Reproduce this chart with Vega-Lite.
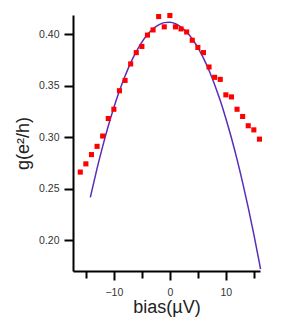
{
  "$schema": "https://vega.github.io/schema/vega-lite/v6.json",
  "autosize": "none",
  "width": 187,
  "height": 256,
  "padding": {"left": 73, "top": 15, "right": 36, "bottom": 50},
  "background": "white",
  "config": {
    "view": {"stroke": null},
    "font": "Liberation Sans",
    "axis": {
      "domainColor": "black",
      "domainWidth": 2,
      "tickColor": "black",
      "tickWidth": 2,
      "tickSize": 9,
      "grid": false,
      "labelColor": "#333",
      "labelFontSize": 10.5,
      "labelFont": "Liberation Sans",
      "titleFont": "Liberation Sans",
      "titleFontSize": 18,
      "titleFontWeight": "normal",
      "titleColor": "#222"
    }
  },
  "resolve": {"axis": {"x": "independent"}},
  "datasets": {
    "pts": [
      {"bias": -16, "g": 0.266}, {"bias": -15, "g": 0.274}, {"bias": -14, "g": 0.283},
      {"bias": -13, "g": 0.291}, {"bias": -12, "g": 0.301}, {"bias": -11, "g": 0.318},
      {"bias": -10, "g": 0.327}, {"bias": -9, "g": 0.345}, {"bias": -8, "g": 0.355},
      {"bias": -7, "g": 0.371}, {"bias": -6, "g": 0.382}, {"bias": -5, "g": 0.388},
      {"bias": -4, "g": 0.399}, {"bias": -3, "g": 0.404}, {"bias": -2, "g": 0.417},
      {"bias": -1, "g": 0.407}, {"bias": 0, "g": 0.418}, {"bias": 1, "g": 0.407},
      {"bias": 2, "g": 0.405}, {"bias": 3, "g": 0.402}, {"bias": 4, "g": 0.394},
      {"bias": 5, "g": 0.387}, {"bias": 6, "g": 0.382}, {"bias": 7, "g": 0.368},
      {"bias": 8, "g": 0.358}, {"bias": 9, "g": 0.356}, {"bias": 10, "g": 0.341},
      {"bias": 11, "g": 0.339}, {"bias": 12, "g": 0.327}, {"bias": 13, "g": 0.320},
      {"bias": 14, "g": 0.311}, {"bias": 15, "g": 0.307}, {"bias": 16, "g": 0.298}
    ],
    "fit": [
      {"bias": -14.2, "g": 0.2415}, {"bias": -14, "g": 0.2463}, {"bias": -13, "g": 0.2696},
      {"bias": -12, "g": 0.2910}, {"bias": -11, "g": 0.3107}, {"bias": -10, "g": 0.3287},
      {"bias": -9, "g": 0.3449}, {"bias": -8, "g": 0.3593}, {"bias": -7, "g": 0.3720},
      {"bias": -6, "g": 0.3829}, {"bias": -5, "g": 0.3921}, {"bias": -4, "g": 0.3995},
      {"bias": -3, "g": 0.4051}, {"bias": -2, "g": 0.4090}, {"bias": -1, "g": 0.4111},
      {"bias": 0, "g": 0.4114}, {"bias": 1, "g": 0.4100}, {"bias": 2, "g": 0.4068},
      {"bias": 3, "g": 0.4019}, {"bias": 4, "g": 0.3952}, {"bias": 5, "g": 0.3868},
      {"bias": 6, "g": 0.3766}, {"bias": 7, "g": 0.3646}, {"bias": 8, "g": 0.3509},
      {"bias": 9, "g": 0.3354}, {"bias": 10, "g": 0.3181}, {"bias": 11, "g": 0.2991},
      {"bias": 12, "g": 0.2784}, {"bias": 13, "g": 0.2558}, {"bias": 14, "g": 0.2315},
      {"bias": 15, "g": 0.2055}, {"bias": 16, "g": 0.1777}, {"bias": 16.2, "g": 0.1719}
    ]
  },
  "layer": [
    {
      "data": {"name": "fit"},
      "mark": {"type": "line", "color": "#5a2db8", "strokeWidth": 1.5, "interpolate": "monotone"},
      "encoding": {
        "x": {"field": "bias", "type": "quantitative",
              "scale": {"domain": [-17.3, 16.1], "nice": false, "zero": false},
              "axis": {"values": [-10, 0, 10], "orient": "bottom",
                       "title": "bias(\u00b5V)", "titlePadding": 1, "labelPadding": 7}},
        "y": {"field": "g", "type": "quantitative",
              "scale": {"domain": [0.17, 0.4185], "nice": false, "zero": false},
              "axis": {"values": [0.2, 0.25, 0.3, 0.35, 0.4], "format": ".2f",
                       "title": "g(e\u00b2/h)", "titlePadding": 6, "labelPadding": 5}}
      }
    },
    {
      "data": {"name": "pts"},
      "mark": {"type": "square", "color": "#ff0000", "opacity": 1, "size": 26},
      "encoding": {
        "x": {"field": "bias", "type": "quantitative",
              "axis": {"values": [-15, -5, 5, 15], "orient": "bottom", "offset": 0,
                       "domain": false, "labels": false, "title": null, "tickSize": 7}},
        "y": {"field": "g", "type": "quantitative"}
      }
    }
  ]
}
